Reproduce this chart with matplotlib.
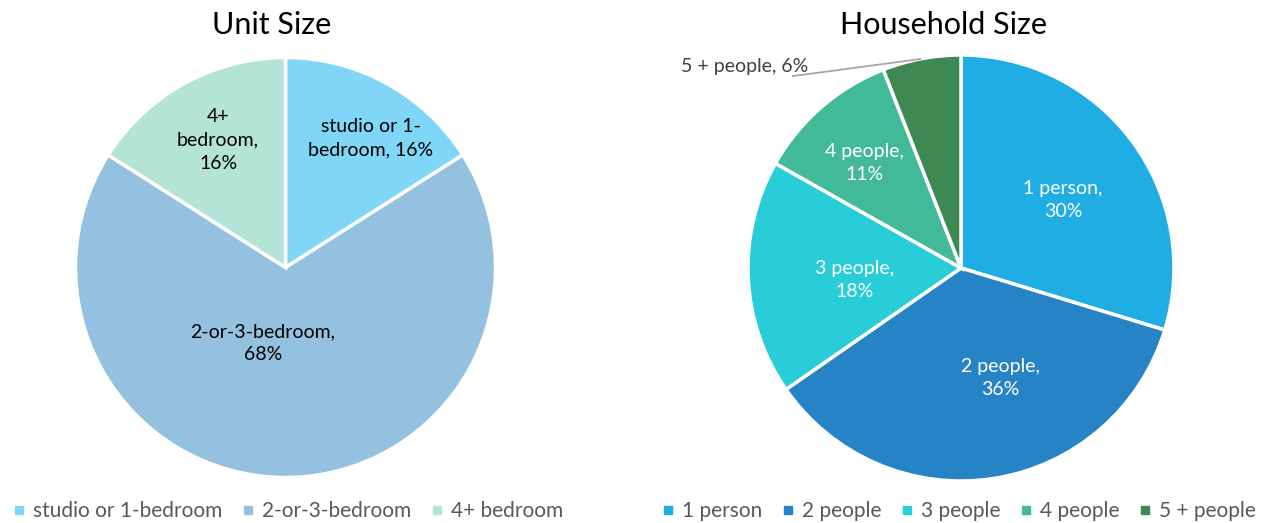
import matplotlib
matplotlib.use("Agg")
import matplotlib.pyplot as plt
from matplotlib.lines import Line2D

plt.rcParams['font.family'] = ['Lato', 'DejaVu Sans']

# Unit size breakdown
unit_labels = ["studio or 1-bedroom", "2-or-3-bedroom", "4+ bedroom"]
unit_slice_text = ["studio or 1-\nbedroom, 16%", "2-or-3-bedroom,\n68%", "4+\nbedroom,\n16%"]
unit_values = [16, 68, 16]
unit_colors = ["#80D6F7", "#95C1E0", "#B4E4D6"]

# Household size breakdown
hh_labels = ["1 person", "2 people", "3 people", "4 people", "5 + people"]
hh_values = [30, 36, 18, 11, 6]
hh_colors = ["#1FADE4", "#2683C6", "#29CDD8", "#43BA97", "#3E8853"]

W, H = 1271, 523
fig = plt.figure(figsize=(W / 100, H / 100), dpi=100)


def pie_axes(cx, cy, r):
    ax = fig.add_axes([(cx - r) / W, (H - cy - r) / H, 2 * r / W, 2 * r / H])
    ax.axis("off")
    return ax


def fix_limits(ax):
    ax.set_xlim(-1, 1)
    ax.set_ylim(-1, 1)
    ax.set_aspect("equal")


wedge_style = dict(edgecolor="white", linewidth=2.5)
label_kw = dict(ha="center", va="center", fontsize=14, linespacing=1.45)

# ---- Unit Size ----
ax1 = pie_axes(285.5, 267.5, 210)
ax1.pie(unit_values, colors=unit_colors, startangle=90, counterclock=False,
        radius=1, wedgeprops=wedge_style)
fix_limits(ax1)
unit_text_pos = [(0.407, 0.617), (-0.107, -0.360), (-0.321, 0.607)]
for txt, (x, y) in zip(unit_slice_text, unit_text_pos):
    ax1.text(x, y, txt, color="black", **label_kw)
fig.text(272 / W, 1 - 25 / H, "Unit Size", ha="center", va="center",
         fontsize=22, color="black")

# ---- Household Size ----
ax2 = pie_axes(961, 268, 213)
ax2.pie(hh_values, colors=hh_colors, startangle=90, counterclock=False,
        radius=1, wedgeprops=wedge_style)
fix_limits(ax2)
hh_text_pos = [(0.479, 0.319), (0.183, -0.516), (-0.498, -0.056), (-0.451, 0.493)]
for lab, val, (x, y) in zip(hh_labels[:4], hh_values[:4], hh_text_pos):
    ax2.text(x, y, f"{lab},\n{val}%", color="white", **label_kw)
# outside label with leader line for the smallest slice
ax2.plot([-0.789, -0.192], [0.901, 0.981], color="#A6A6A6", linewidth=1.3,
         clip_on=False)
ax2.text(-1.014, 0.944, f"{hh_labels[4]}, {hh_values[4]}%", ha="center",
         va="center", fontsize=14, color="#404040")
fig.text(943 / W, 1 - 25 / H, "Household Size", ha="center", va="center",
         fontsize=22, color="black")


def square_handles(colors):
    return [Line2D([0], [0], marker="s", linestyle="none", markersize=6,
                   markerfacecolor=c, markeredgecolor=c) for c in colors]


leg_kw = dict(loc="center", ncol=5, frameon=False, fontsize=15,
              handlelength=0.6, handletextpad=0.35, columnspacing=0.95,
              labelcolor="#595959")
fig.legend(square_handles(unit_colors), unit_labels,
           bbox_to_anchor=(288 / W, 1 - 511 / H), **{**leg_kw, "ncol": 3})
fig.legend(square_handles(hh_colors), hh_labels,
           bbox_to_anchor=(959 / W, 1 - 511 / H), **leg_kw)

fig.savefig("out.png", dpi=100, facecolor="white")
